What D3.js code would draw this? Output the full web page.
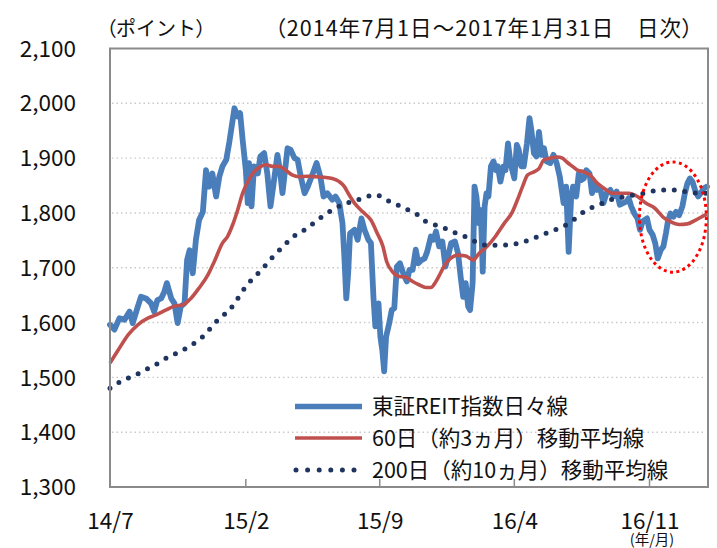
<!DOCTYPE html>
<html><head><meta charset="utf-8">
<script src="https://cdn.jsdelivr.net/npm/d3@7"></script>
<style>
html,body{margin:0;padding:0;background:#fff;}
svg{display:block;font-family:"Noto Sans CJK JP","Noto Sans",sans-serif;}
.palt{font-feature-settings:"palt";}
</style></head>
<body>
<svg id="chart" width="717" height="548"></svg>
<script>
// ---- data ----
const reitDaily = [["2014-07-01",1596],["2014-07-08",1587],["2014-07-16",1608],["2014-07-24",1605],["2014-08-01",1620],["2014-08-06",1599],["2014-08-14",1629],["2014-08-19",1647],["2014-08-27",1644],["2014-09-04",1635],["2014-09-09",1620],["2014-09-14",1641],["2014-09-20",1644],["2014-09-25",1656],["2014-09-29",1672],["2014-10-06",1644],["2014-10-11",1635],["2014-10-16",1599],["2014-10-21",1629],["2014-10-27",1635],["2014-10-31",1714],["2014-11-04",1732],["2014-11-09",1690],["2014-11-14",1751],["2014-11-19",1787],["2014-11-25",1802],["2014-11-30",1878],["2014-12-05",1848],["2014-12-10",1872],["2014-12-16",1830],["2014-12-21",1866],["2014-12-26",1885],["2015-01-01",1897],["2015-01-06",1930],["2015-01-14",1991],["2015-01-19",1976],["2015-01-23",1982],["2015-01-27",1933],["2015-02-01",1878],["2015-02-04",1818],["2015-02-06",1891],["2015-02-10",1812],["2015-02-14",1885],["2015-02-20",1872],["2015-02-24",1903],["2015-03-02",1909],["2015-03-07",1872],["2015-03-12",1812],["2015-03-17",1854],["2015-03-23",1906],["2015-03-27",1878],["2015-03-31",1836],["2015-04-03",1866],["2015-04-08",1918],["2015-04-13",1915],["2015-04-19",1900],["2015-04-24",1897],["2015-04-29",1866],["2015-05-05",1836],["2015-05-10",1848],["2015-05-18",1872],["2015-05-24",1891],["2015-05-30",1866],["2015-06-04",1830],["2015-06-10",1836],["2015-06-18",1824],["2015-06-23",1830],["2015-06-29",1818],["2015-07-04",1781],["2015-07-07",1720],["2015-07-10",1644],["2015-07-13",1690],["2015-07-16",1763],["2015-07-23",1769],["2015-07-28",1751],["2015-08-03",1790],["2015-08-08",1769],["2015-08-14",1751],["2015-08-18",1745],["2015-08-22",1647],["2015-08-25",1593],["2015-08-30",1635],["2015-09-02",1574],["2015-09-05",1550],["2015-09-08",1511],["2015-09-11",1574],["2015-09-16",1599],["2015-09-20",1623],["2015-09-24",1626],["2015-09-28",1702],["2015-10-03",1708],["2015-10-09",1687],["2015-10-14",1675],["2015-10-18",1696],["2015-10-23",1696],["2015-10-28",1733],["2015-11-01",1708],["2015-11-06",1714],["2015-11-11",1717],["2015-11-15",1729],["2015-11-21",1757],["2015-11-25",1751],["2015-11-29",1766],["2015-12-04",1739],["2015-12-09",1748],["2015-12-14",1702],["2015-12-18",1720],["2015-12-23",1745],["2015-12-29",1748],["2016-01-03",1726],["2016-01-07",1684],["2016-01-11",1647],["2016-01-15",1672],["2016-01-19",1629],["2016-01-22",1623],["2016-01-26",1672],["2016-01-29",1848],["2016-02-01",1830],["2016-02-05",1781],["2016-02-08",1805],["2016-02-11",1693],["2016-02-14",1812],["2016-02-17",1836],["2016-02-20",1830],["2016-02-24",1885],["2016-02-28",1894],["2016-03-03",1878],["2016-03-06",1885],["2016-03-10",1857],["2016-03-15",1885],["2016-03-18",1878],["2016-03-22",1927],["2016-03-26",1891],["2016-04-01",1863],["2016-04-05",1924],["2016-04-08",1915],["2016-04-12",1885],["2016-04-16",1885],["2016-04-21",1927],["2016-04-25",1973],["2016-04-28",1951],["2016-05-02",1909],["2016-05-06",1903],["2016-05-10",1948],["2016-05-14",1906],["2016-05-18",1918],["2016-05-22",1894],["2016-05-28",1891],["2016-06-02",1906],["2016-06-07",1891],["2016-06-12",1866],["2016-06-18",1818],["2016-06-22",1848],["2016-06-26",1729],["2016-06-30",1830],["2016-07-03",1848],["2016-07-08",1830],["2016-07-12",1872],["2016-07-16",1860],["2016-07-20",1863],["2016-07-24",1878],["2016-07-29",1872],["2016-08-02",1836],["2016-08-06",1854],["2016-08-10",1842],["2016-08-15",1845],["2016-08-20",1818],["2016-08-25",1836],["2016-08-31",1842],["2016-09-05",1830],["2016-09-10",1839],["2016-09-15",1815],["2016-09-20",1818],["2016-09-26",1821],["2016-09-29",1827],["2016-10-03",1812],["2016-10-08",1799],["2016-10-13",1790],["2016-10-17",1769],["2016-10-21",1784],["2016-10-24",1787],["2016-10-28",1790],["2016-11-01",1769],["2016-11-06",1760],["2016-11-10",1745],["2016-11-14",1717],["2016-11-19",1733],["2016-11-23",1739],["2016-11-27",1763],["2016-11-30",1784],["2016-12-04",1799],["2016-12-09",1793],["2016-12-13",1802],["2016-12-18",1796],["2016-12-23",1812],["2016-12-27",1836],["2016-12-31",1854],["2017-01-04",1863],["2017-01-08",1857],["2017-01-12",1842],["2017-01-17",1830],["2017-01-21",1836],["2017-01-26",1845],["2017-01-31",1848]];

const ma60 = [["2014-07-01",1526],["2014-07-14",1550],["2014-07-30",1578],["2014-08-14",1596],["2014-08-30",1608],["2014-09-12",1614],["2014-09-28",1623],["2014-10-11",1630],["2014-10-24",1632],["2014-11-06",1644],["2014-11-19",1663],["2014-12-03",1687],["2014-12-13",1711],["2014-12-26",1745],["2015-01-03",1757],["2015-01-11",1778],["2015-01-19",1805],["2015-01-27",1836],["2015-02-04",1857],["2015-02-14",1875],["2015-02-25",1885],["2015-03-05",1888],["2015-03-15",1885],["2015-03-26",1885],["2015-04-05",1878],["2015-04-16",1869],["2015-04-26",1866],["2015-05-10",1867],["2015-05-23",1866],["2015-06-05",1865],["2015-06-18",1863],["2015-06-29",1857],["2015-07-07",1848],["2015-07-13",1836],["2015-07-23",1818],["2015-08-05",1802],["2015-08-18",1787],["2015-08-28",1763],["2015-09-06",1739],["2015-09-12",1711],["2015-09-21",1693],["2015-10-02",1684],["2015-10-12",1683],["2015-10-23",1675],["2015-11-02",1669],["2015-11-13",1664],["2015-11-21",1664],["2015-11-29",1675],["2015-12-06",1690],["2015-12-13",1705],["2015-12-22",1717],["2016-01-02",1723],["2016-01-13",1722],["2016-01-18",1720],["2016-01-27",1714],["2016-02-05",1726],["2016-02-18",1739],["2016-03-02",1757],["2016-03-16",1781],["2016-03-29",1802],["2016-04-06",1824],["2016-04-14",1848],["2016-04-22",1869],["2016-05-02",1875],["2016-05-10",1881],["2016-05-18",1897],["2016-05-28",1900],["2016-06-08",1902],["2016-06-16",1900],["2016-06-24",1892],["2016-07-02",1885],["2016-07-10",1878],["2016-07-20",1875],["2016-08-01",1867],["2016-08-08",1857],["2016-08-21",1845],["2016-09-03",1836],["2016-09-16",1836],["2016-09-29",1836],["2016-10-13",1830],["2016-10-26",1818],["2016-11-09",1809],["2016-11-22",1793],["2016-12-04",1784],["2016-12-18",1779],["2016-12-31",1780],["2017-01-13",1787],["2017-01-26",1795],["2017-01-31",1798]];

const ma200 = [["2014-07-01",1480],["2014-07-17",1492],["2014-08-01",1500],["2014-08-17",1508],["2014-09-02",1518],["2014-09-17",1527],["2014-10-02",1538],["2014-10-18",1546],["2014-11-03",1556],["2014-11-17",1567],["2014-12-01",1581],["2014-12-12",1597],["2014-12-25",1611],["2015-01-07",1624],["2015-01-17",1640],["2015-01-27",1658],["2015-02-07",1674],["2015-02-19",1688],["2015-03-03",1703],["2015-03-15",1719],["2015-03-27",1733],["2015-04-09",1748],["2015-04-22",1761],["2015-05-08",1771],["2015-05-22",1784],["2015-06-05",1796],["2015-06-20",1807],["2015-07-06",1816],["2015-07-24",1822],["2015-08-09",1829],["2015-08-26",1833],["2015-09-11",1824],["2015-09-27",1816],["2015-10-13",1807],["2015-10-29",1798],["2015-11-12",1785],["2015-11-28",1778],["2015-12-15",1771],["2015-12-31",1763],["2016-01-16",1756],["2016-02-01",1747],["2016-02-18",1741],["2016-03-08",1741],["2016-03-26",1742],["2016-04-12",1746],["2016-04-29",1753],["2016-05-15",1760],["2016-06-01",1768],["2016-06-17",1775],["2016-07-02",1786],["2016-07-16",1799],["2016-07-31",1809],["2016-08-17",1817],["2016-09-03",1825],["2016-09-20",1829],["2016-10-08",1833],["2016-10-25",1836],["2016-11-12",1841],["2016-11-29",1842],["2016-12-14",1842],["2016-12-31",1838],["2017-01-19",1836],["2017-01-31",1836]];

const yTicks = [1300,1400,1500,1600,1700,1800,1900,2000,2100];
const xTickDates = ["2014-07-01","2015-02-01","2015-09-01","2016-04-01","2016-11-01"];
const xTickLabels = ["14/7","15/2","15/9","16/4","16/11"];
const dateRange = ["2014-07-01","2017-01-31"];
const legendLabels = ["東証REIT指数日々線","60日（約3ヵ月）移動平均線","200日（約10ヵ月）移動平均線"];
const unitLabel = ["（","ポイント","）"];
const periodLabel = ["（","2014年7月1日～2017年1月31日　日次","）"];
const xUnitLabel = "(年/月)";
// highlighted region (dates / values)
const highlight = {from:"2016-10-16", to:"2017-01-30", low:1692, high:1893};

// ---- drawing ----
const parse = d3.timeParse("%Y-%m-%d");
const svg = d3.select("#chart");
const L=110, R=708, T=48.5, B=487;
const x = d3.scaleTime().domain(dateRange.map(parse)).range([L, 707]);
const y = d3.scaleLinear().domain([1300,2100]).range([B, T]);

const blue="#4a7ebb", red="#c0504d", navy="#1f3560";

// gridlines
svg.append("g").selectAll("line").data(yTicks.filter(v=>v>1300&&v<2100)).join("line")
  .attr("x1",L+2).attr("x2",R-2).attr("y1",d=>y(d)).attr("y2",d=>y(d))
  .attr("stroke","#c9c9c9").attr("stroke-width",1.4).attr("stroke-dasharray","1.5,3");

// y axis labels
const yAxis = svg.append("g").attr("transform",`translate(${L},0)`)
  .call(d3.axisLeft(y).tickValues(yTicks).tickFormat(d3.format(",")).tickSize(0).tickPadding(34));
yAxis.select(".domain").remove();
yAxis.selectAll("text").attr("font-size",22.5).attr("fill","#111").attr("font-family","Noto Sans CJK JP").attr("dy","0.34em");

// x axis labels
const xAxis = svg.append("g").attr("transform",`translate(0,${B})`)
  .call(d3.axisBottom(x).tickValues(xTickDates.map(parse)).tickFormat((d,i)=>xTickLabels[i]).tickSize(0));
xAxis.select(".domain").remove();
xAxis.selectAll("text").attr("font-size",22.5).attr("fill","#111").attr("font-family","Noto Sans CJK JP").attr("dy",null).attr("y",42);

// inner ticks
svg.append("g").selectAll("line").data(xTickDates.slice(1)).join("line")
  .attr("x1",d=>x(parse(d))).attr("x2",d=>x(parse(d))).attr("y1",B).attr("y2",B-8)
  .attr("stroke","#8c8c8c").attr("stroke-width",1.5);

// series
const line = d3.line().x(d=>x(parse(d[0]))).y(d=>y(d[1]));
svg.append("path").datum(reitDaily).attr("d",line).attr("fill","none")
  .attr("stroke",blue).attr("stroke-width",5.8).attr("stroke-linejoin","round").attr("stroke-linecap","round");
svg.append("path").datum(ma60).attr("d",line.curve(d3.curveMonotoneX)).attr("fill","none")
  .attr("stroke",red).attr("stroke-width",3.6).attr("stroke-linejoin","round");
svg.append("path").datum(ma200).attr("d",line.curve(d3.curveMonotoneX)).attr("fill","none")
  .attr("stroke",navy).attr("stroke-width",5).attr("stroke-linecap","round").attr("stroke-dasharray","0,10.6");

// plot border
svg.append("rect").attr("x",L).attr("y",T).attr("width",R-L).attr("height",B-T)
  .attr("fill","none").attr("stroke","#8a8a8a").attr("stroke-width",2);

// highlight ellipse
const ex1=x(parse(highlight.from)), ex2=x(parse(highlight.to));
const ey1=y(highlight.high), ey2=y(highlight.low);
svg.append("ellipse").attr("cx",(ex1+ex2)/2).attr("cy",(ey1+ey2)/2)
  .attr("rx",(ex2-ex1)/2).attr("ry",(ey2-ey1)/2)
  .attr("fill","none").attr("stroke","#ff0000").attr("stroke-width",3).attr("stroke-dasharray","3,3.4");

// legend
const lg = svg.append("g");
const rows=[406.5,438,470];
const styles=[
  {stroke:blue,w:5.5,dash:null,cap:"butt"},
  {stroke:red,w:3.6,dash:null,cap:"butt"},
  {stroke:navy,w:5,dash:"0,11.6",cap:"round"}];
legendLabels.forEach((t,i)=>{
  lg.append("line").attr("x1",i==2?296:295).attr("x2",362).attr("y1",rows[i]).attr("y2",rows[i])
    .attr("stroke",styles[i].stroke).attr("stroke-width",styles[i].w)
    .attr("stroke-dasharray",styles[i].dash).attr("stroke-linecap",styles[i].cap);
  lg.append("text").attr("x",372).attr("y",rows[i]-2).attr("dominant-baseline","central")
    .attr("font-size",21.5).attr("fill","#111").text(t);
});

// header texts
function header(parts, xPos, anchor, size, spacing){
  const t = svg.append("text").attr("x",xPos).attr("y",36).attr("text-anchor",anchor)
    .attr("font-size",size).attr("fill","#111").attr("letter-spacing",spacing);
  parts.forEach((p,i)=>{
    const s = t.append("tspan").text(p);
    if(i!==1) s.attr("class","palt");
  });
}
header(unitLabel, 106, "start", 20, 0);
header(periodLabel, 694, "end", 21.5, 1.1);
svg.append("text").attr("x",652).attr("y",545).attr("text-anchor","middle").attr("font-size",14.5).attr("fill","#111")
  .text(xUnitLabel);
</script>
</body></html>
